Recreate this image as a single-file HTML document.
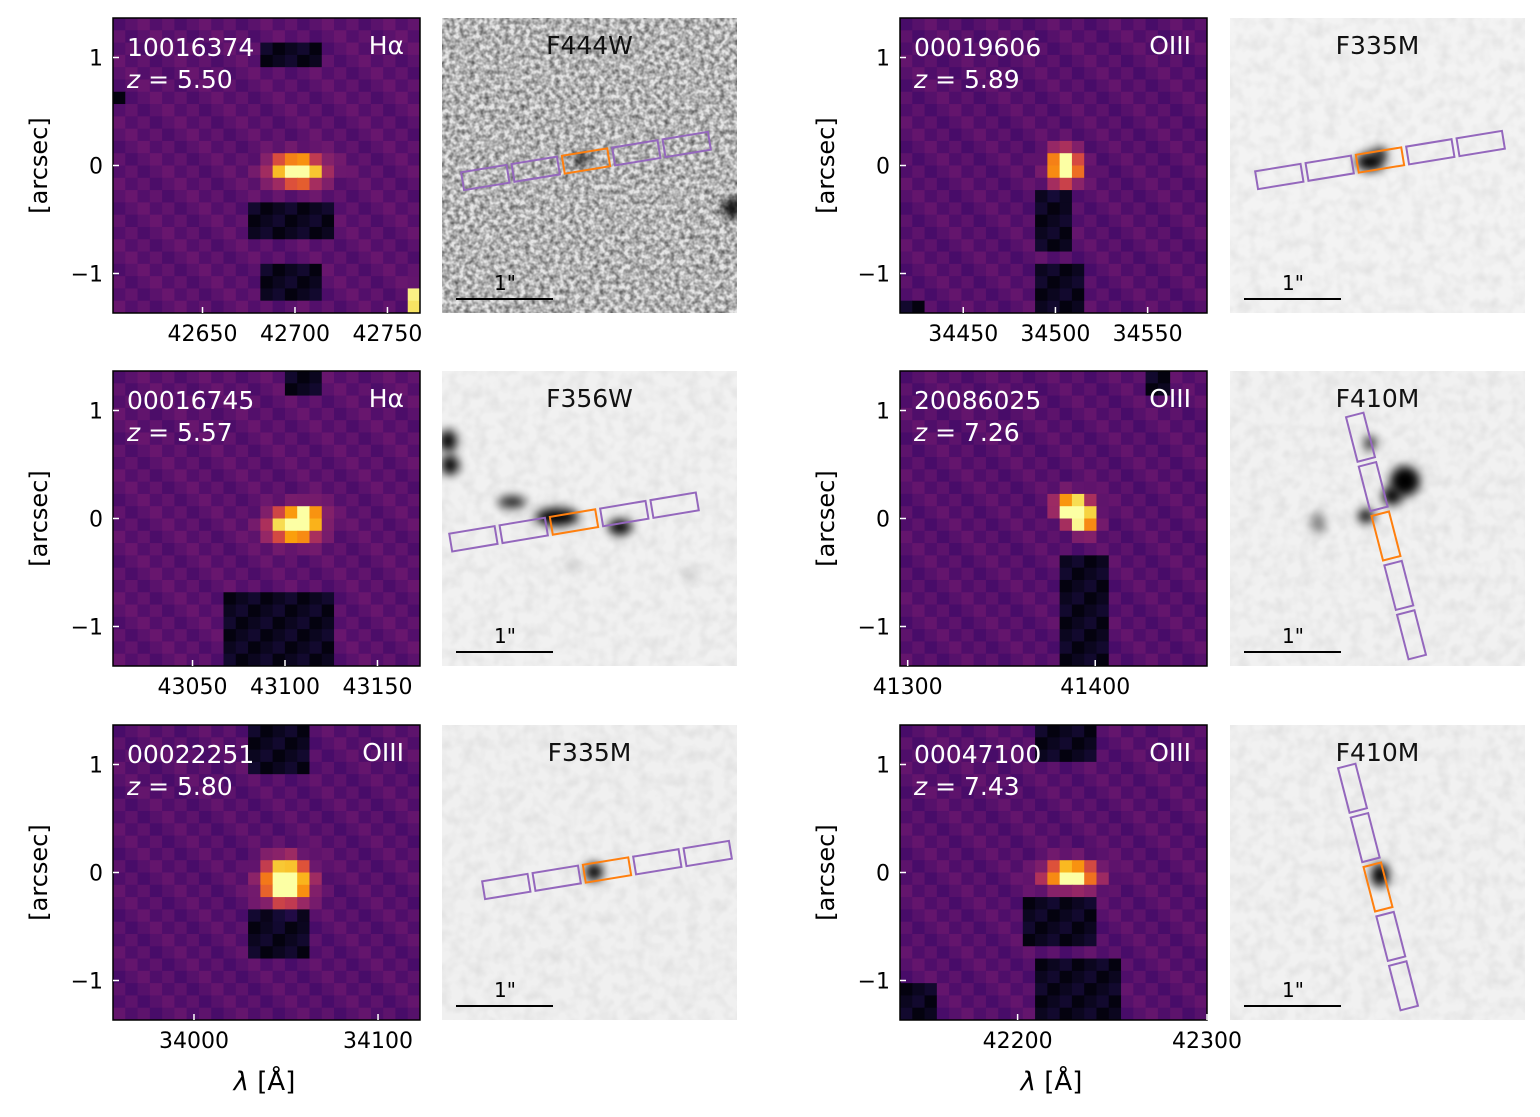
<!DOCTYPE html>
<html><head><meta charset="utf-8">
<style>
html,body{margin:0;padding:0;background:#fff;}
svg text{font-family:"DejaVu Sans","Liberation Sans",sans-serif;}
</style></head>
<body>
<svg id="fig" xmlns="http://www.w3.org/2000/svg" width="1540" height="1112" viewBox="0 0 1540 1112">
<defs>
<filter id="blur3" x="-100%" y="-100%" width="300%" height="300%"><feGaussianBlur stdDeviation="5"/></filter>
<filter id="noise" x="0" y="0" width="100%" height="100%">
<feTurbulence type="fractalNoise" baseFrequency="0.2" numOctaves="2" seed="3"/>
<feColorMatrix type="matrix" values="0 0 0 0 0  0 0 0 0 0  0 0 0 0 0  0 0 0 -1.0 0.72"/>
</filter>
<filter id="noiseLight" x="0" y="0" width="100%" height="100%">
<feTurbulence type="fractalNoise" baseFrequency="0.08" numOctaves="2" seed="7"/>
<feColorMatrix type="matrix" values="0 0 0 0 0  0 0 0 0 0  0 0 0 0 0  0 0 0 -0.12 0.075"/>
</filter>
</defs>
<g id="root"></g>
</svg>
<script>
// ---- data ----
const ids = ["10016374","00019606","00016745","20086025","00022251","00047100"];
const zvals = ["5.50","5.89","5.57","7.26","5.80","7.43"];
const lines = ["Hα","OIII","Hα","OIII","OIII","OIII"];
const filters = ["F444W","F335M","F356W","F410M","F335M","F410M"];
const lamDomains = [[42601.6,42767.6],[34415.7,34582.2],[43007,43173],[41295.9,41459.6],[33956,34122.8],[42137.9,42300]];
const lamTicks = [[42650,42700,42750],[34450,34500,34550],[43050,43100,43150],[41300,41400],[34000,34100],[42200,42300]];
const yTicks = [1,0,-1];
// emission blobs: [col,row,peak,sigmaCol,sigmaRow]
const blobs = [
 [[14.5,11.9,1.05,1.4,0.75],[24,22.5,0.95,0.3,0.6]],
 [[12.9,11.6,1.1,0.8,0.9]],
 [[14.2,12.1,1.0,1.3,0.8],[15.3,11.2,0.6,0.8,0.6]],
 [[13.6,10.6,0.95,0.9,0.7],[14.4,11.6,0.8,0.7,0.7]],
 [[13.6,12.2,1.2,1.2,1.1]],
 [[13.4,11.7,0.95,1.4,0.7]]
];
// dark patches: [c0,r0,c1,r1] inclusive
const darks = [
 [[12,2,16,3],[11,15,17,17],[12,20,16,22],[0,6,0,6]],
 [[11,14,13,18],[11,20,14,23],[0,23,1,23]],
 [[9,18,17,23],[14,0,16,1]],
 [[13,15,16,23],[20,0,21,1]],
 [[11,0,15,3],[11,15,15,18]],
 [[11,0,15,2],[10,14,15,17],[11,19,17,23],[0,21,2,23]]
];
const bgLevel = [0.26,0.25,0.26,0.25,0.25,0.25];
// image-panel sources: [dx,dy,rx,ry,opacity] relative to panel top-left
const sources = [
 [[140,141,7,6,1],[290,190,9,10,1]],
 [[140,144,14,9,1],[150,136,7,6,1]],
 [[6,70,9,11,1],[8,94,9,10,1],[70,131,14,6,0.9],[115,146,22,9,1],[178,156,12,8,1],[130,195,6,5,0.25],[248,205,6,5,0.25]],
 [[175,110,15,15,1],[162,125,10,9,1],[140,72,6,7,0.9],[136,145,8,7,1],[88,152,7,10,0.5]],
 [[152,147,9,9,1]],
 [[150,150,9,12,1]]
];
// slit centers (orange) and orientation (deg of long axis from horizontal)
const slitCenter = [[144,143],[150,142],[132,151],[156,165],[165,145],[148,162]];
const slitAngle = [-9.3,-9.3,-9.5,75.5,-9.3,75.5];
const imgBg = ["#e6e6e6","#f3f3f3","#f1f1f1","#f1f1f1","#f0f0f0","#f1f1f1"];

// ---- layout ----
const NS="http://www.w3.org/2000/svg";
const root=document.getElementById('root');
const specX=[113,900], imgX=[442,1230], rowY=[18,371,725], PW=307, PH=295, IW=295;
function el(tag,attrs,parent){const e=document.createElementNS(NS,tag);for(const k in attrs)e.setAttribute(k,attrs[k]);(parent||root).appendChild(e);return e;}
const stops=["#000004","#160b39","#420a68","#6a176e","#932667","#bc3754","#dd513a","#f37819","#fca50a","#f6d746","#fcffa4"];
function hex(c){return [1,3,5].map(i=>parseInt(c.substr(i,2),16));}
function inferno(v){v=Math.max(0,Math.min(1,v));const p=v*10,i=Math.min(9,Math.floor(p)),f=p-i;const a=hex(stops[i]),b=hex(stops[i+1]);return "rgb("+a.map((x,k)=>Math.round(x+(b[k]-x)*f)).join(",")+")";}

const NC=25,NR=24;
for(let p=0;p<6;p++){
  const col=p%2,row=Math.floor(p/2);
  const x0=specX[col],y0=rowY[row];
  const g=el('g',{});
  
  
  const cw=PW/NC,ch=PH/NR;
  for(let r=0;r<NR;r++)for(let c=0;c<NC;c++){
    let v=bgLevel[p]+((c*7+r*13)%5-2)*0.018;
    for(const d of darks[p]) if(c>=d[0]&&c<=d[2]&&r>=d[1]&&r<=d[3]) v=0.02+((c+r)%3)*0.03;
    for(const b of blobs[p]){const dx=(c-b[0])/b[3],dy=(r-b[1])/b[4];v+=b[2]*Math.exp(-0.5*(dx*dx+dy*dy));}
    const cell=el('rect',{x:(x0+c*cw).toFixed(2),y:(y0+r*ch).toFixed(2),width:(cw+0.5).toFixed(2),height:(ch+0.5).toFixed(2),fill:inferno(v)},g);
    
    
  }
  const fr=el('rect',{x:x0,y:y0,width:PW,height:PH,fill:'none',stroke:'#000','stroke-width':1.5},g);
  
  
  const ys=v=>y0+PH/2-v*108;
  yTicks.forEach(t=>{
    el('line',{x1:x0,x2:x0+6,y1:ys(t),y2:ys(t),stroke:'#fff','stroke-width':1.5},g);
    const tl=el('text',{x:x0-10,y:ys(t)+8,'font-size':22,'text-anchor':'end',fill:'#000'},g);
    tl.textContent=t<0?"−"+(-t):String(t);
    
    
  });
  const yl=el('text',{x:0,y:0,'font-size':24,'text-anchor':'middle',transform:`translate(${x0-66},${y0+PH/2}) rotate(-90)`},g);
  yl.textContent="[arcsec]";
  
  
  const dom=lamDomains[p];
  const xs=l=>x0+(l-dom[0])/(dom[1]-dom[0])*PW;
  lamTicks[p].forEach(t=>{
    el('line',{x1:xs(t),x2:xs(t),y1:y0+PH,y2:y0+PH-6,stroke:'#fff','stroke-width':1.5},g);
    const tl=el('text',{x:xs(t),y:y0+PH+28,'font-size':22,'text-anchor':'middle'},g);
    tl.textContent=String(t);
    
    
  });
  if(row===2){
    const xl=el('text',{x:x0+PW/2-2,y:y0+PH+70,'font-size':26,'text-anchor':'middle'},g);
    xl.innerHTML='<tspan font-style="italic">λ</tspan> [Å]';
    
    
  }
  const idt=el('text',{x:x0+14,y:y0+38,'font-size':25,fill:'#fff'},g);
  idt.textContent=ids[p];
  
  
  const zt=el('text',{x:x0+14,y:y0+70,'font-size':25,fill:'#fff'},g);
  zt.innerHTML='<tspan font-style="italic">z</tspan> = '+zvals[p];
  
  
  const lt=el('text',{x:x0+PW-16,y:y0+36,'font-size':25,fill:'#fff','text-anchor':'end'},g);
  lt.textContent=lines[p];
  
  

  const ix=imgX[col];
  const gi=el('g',{});
  
  
  const cid='clip'+p;
  const cp=el('clipPath',{id:cid},gi);el('rect',{x:ix,y:y0,width:IW,height:PH},cp);
  const inner=el('g',{'clip-path':`url(#${cid})`},gi);
  el('rect',{x:ix,y:y0,width:IW,height:PH,fill:imgBg[p]},inner);
  el('rect',{x:ix,y:y0,width:IW,height:PH,fill:'#000',filter:p===0?'url(#noise)':'url(#noiseLight)'},inner);
  sources[p].forEach(s=>{
    const e=el('ellipse',{cx:ix+s[0],cy:y0+s[1],rx:s[2],ry:s[3],fill:'#000',opacity:s[4],filter:'url(#blur3)'},inner);
    
    
  });
  const ang=slitAngle[p],rad=ang*Math.PI/180,sp=51;
  for(let k=-2;k<=2;k++){
    const cx=ix+slitCenter[p][0]+k*sp*Math.cos(rad),cy=y0+slitCenter[p][1]+k*sp*Math.sin(rad);
    const s=el('rect',{x:-23,y:-9,width:46,height:18,fill:'none',stroke:k===0?'#ff7f0e':'#9467bd','stroke-width':2,transform:`translate(${cx.toFixed(1)},${cy.toFixed(1)}) rotate(${ang})`},inner);
    
    
  }
  const ft=el('text',{x:ix+IW/2,y:y0+36,'font-size':25,'text-anchor':'middle',fill:'#111'},gi);
  ft.textContent=filters[p];
  
  
  const sb=el('line',{x1:ix+14,x2:ix+111,y1:y0+281,y2:y0+281,stroke:'#000','stroke-width':2},gi);
  
  
  const st=el('text',{x:ix+63,y:y0+272,'font-size':20,'text-anchor':'middle'},gi);
  st.textContent='1"';
  
  
}
</script>
</body></html>
